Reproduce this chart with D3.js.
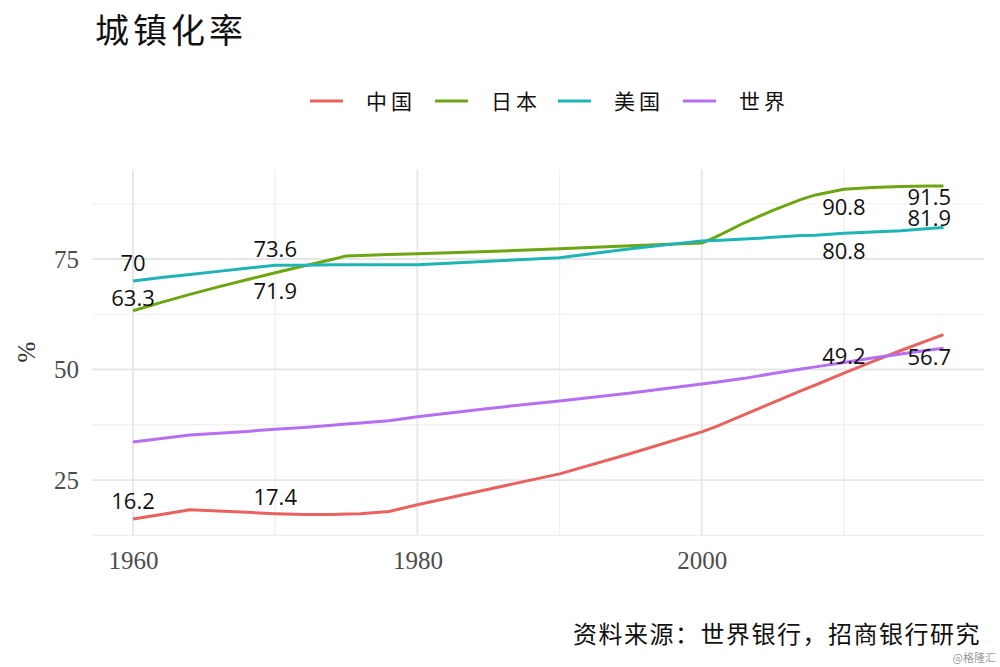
<!DOCTYPE html>
<html><head><meta charset="utf-8">
<script src="https://cdn.jsdelivr.net/npm/d3@7"></script>
<style>body{margin:0;background:#fff}svg{display:block}</style>
</head><body>
<svg id="c" width="1000" height="667"></svg>
<script>
const years = [1960,1962,1964,1966,1968,1970,1972,1974,1975,1976,1978,1980,1985,1990,1995,2000,2001,2003,2005,2007,2008,2010,2012,2014,2016,2017];
const china = [16.2,17.2,18.3,18.0,17.7,17.4,17.2,17.2,17.3,17.4,17.9,19.4,22.9,26.4,31.0,35.9,37.1,39.8,42.5,45.2,46.5,49.2,51.8,54.3,56.7,57.9];
const japan = [63.3,65.2,67.0,68.7,70.3,71.9,73.4,74.9,75.7,75.8,76.0,76.2,76.7,77.3,78.0,78.6,80.0,83.2,86.0,88.5,89.5,90.8,91.2,91.4,91.5,91.5];
const usa   = [70.0,70.8,71.5,72.2,72.9,73.6,73.6,73.7,73.7,73.7,73.7,73.7,74.5,75.3,77.3,79.1,79.2,79.5,79.9,80.3,80.4,80.8,81.1,81.4,81.9,82.1];
const world = [33.6,34.4,35.2,35.6,36.0,36.5,36.9,37.4,37.7,37.9,38.4,39.3,41.2,42.9,44.7,46.7,47.1,48.0,49.1,50.1,50.6,51.6,52.6,53.5,54.4,54.8];
const seriesNames = ["中国","日本","美国","世界"];
const seriesColors = ["#e8635f","#6ea513","#1fb4b6","#b56ff0"];
const labelSeries = [0,0,0,0,2,1,2,1,1,2,1,2];
const labelYears  = [1960,1970,2010,2016,1960,1960,1970,1970,2010,2010,2016,2016];
const labelTexts  = ["16.2","17.4","49.2","56.7","70","63.3","73.6","71.9","90.8","80.8","91.5","81.9"];
const labelNudge  = [-18,-17,-17,17.5,-18.5,-13,-16,18,18,17.6,11,-10];
const xTicks = [1960,1980,2000];
const xMinor = [1970,1990,2010];
const yTicks = [25,50,75];
const yMinor = [12.5,37.5,62.5,87.5];

const values = [china, japan, usa, world];
const svg = d3.select("#c");
const x = d3.scaleLinear().domain([1957.15, 2019.85]).range([92.5, 984]);
const y = d3.scaleLinear().domain([12.43, 95.27]).range([535.6, 169.4]);

const g = svg.append("g");
// grid
g.selectAll(".hm").data(yMinor).join("line")
  .attr("x1", 92.5).attr("x2", 984).attr("y1", d=>y(d)).attr("y2", d=>y(d))
  .attr("stroke", "#efefef").attr("stroke-width", 1.2);
g.selectAll(".vm").data(xMinor).join("line")
  .attr("y1", 169.4).attr("y2", 535.6).attr("x1", d=>x(d)).attr("x2", d=>x(d))
  .attr("stroke", "#efefef").attr("stroke-width", 1.2);
g.selectAll(".hM").data(yTicks).join("line")
  .attr("x1", 92.5).attr("x2", 984).attr("y1", d=>y(d)).attr("y2", d=>y(d))
  .attr("stroke", "#e6e6e6").attr("stroke-width", 1.8);
g.selectAll(".vM").data(xTicks).join("line")
  .attr("y1", 169.4).attr("y2", 535.6).attr("x1", d=>x(d)).attr("x2", d=>x(d))
  .attr("stroke", "#e6e6e6").attr("stroke-width", 1.8);

// axes labels
const xAxis = d3.axisBottom(x).tickValues(xTicks).tickFormat(d3.format("d")).tickSize(0).tickPadding(0);
const xg = svg.append("g").attr("transform", "translate(0,535.6)").call(xAxis);
xg.select(".domain").remove();
xg.selectAll("text").attr("dy", null).attr("y", 33)
  .attr("font-family", "Liberation Serif, serif").attr("font-size", 25).attr("fill", "#4d4d4d");
const yAxis = d3.axisLeft(y).tickValues(yTicks).tickSize(0).tickPadding(0);
const yg = svg.append("g").attr("transform", "translate(79,0)").call(yAxis);
yg.select(".domain").remove();
yg.selectAll("text").attr("dy", "0.33em").attr("x", 0)
  .attr("font-family", "Liberation Serif, serif").attr("font-size", 25).attr("fill", "#4d4d4d");

svg.append("text").attr("transform", "translate(35,352) rotate(-90)")
  .attr("text-anchor", "middle").attr("font-family", "Liberation Serif, serif")
  .attr("font-size", 25).attr("fill", "#333").text("%");

// lines
const line = d3.line().x((d,i)=>x(years[i])).y(d=>y(d));
svg.selectAll(".series").data(values).join("path")
  .attr("d", d=>line(d)).attr("fill", "none")
  .attr("stroke", (d,i)=>seriesColors[i]).attr("stroke-width", 3)
  .attr("stroke-linejoin", "round");

// labels
svg.selectAll(".lab").data(labelTexts).join("text")
  .attr("x", (d,i)=>x(labelYears[i]))
  .attr("y", (d,i)=>y(values[labelSeries[i]][years.indexOf(labelYears[i])]) + labelNudge[i])
  .attr("dy", "0.36em").attr("text-anchor", "middle")
  .attr("font-family", "Open Sans, sans-serif").attr("font-size", 22).attr("fill", "#111")
  .text(d=>d);

// title
svg.append("text").attr("x", 95).attr("y", 43)
  .attr("font-family", "Noto Sans CJK SC").attr("font-size", 34).attr("letter-spacing", 4)
  .attr("fill", "#111").text("城镇化率");

// legend
const legX = [310, 435, 558, 683];
const leg = svg.selectAll(".leg").data(seriesNames).join("g")
  .attr("transform", (d,i)=>`translate(${legX[i]},101)`);
leg.append("line").attr("x1", 0).attr("x2", 33).attr("stroke", (d,i)=>seriesColors[i]).attr("stroke-width", 3);
leg.append("text").attr("x", 56).attr("dy", "0.36em")
  .attr("font-family", "Noto Sans CJK SC").attr("font-size", 21).attr("letter-spacing", 4)
  .attr("fill", "#111").text(d=>d);

// caption
svg.append("text").attr("x", 981).attr("y", 643).attr("text-anchor", "end")
  .attr("font-family", "Noto Sans CJK SC").attr("font-size", 24).attr("letter-spacing", 1.5)
  .attr("fill", "#111").text("资料来源：世界银行，招商银行研究");
svg.append("text").attr("x", 996).attr("y", 662).attr("text-anchor", "end")
  .attr("font-family", "Noto Sans CJK SC").attr("font-size", 11).attr("fill", "#9a9a9a")
  .text("@格隆汇");
</script>
</body></html>
